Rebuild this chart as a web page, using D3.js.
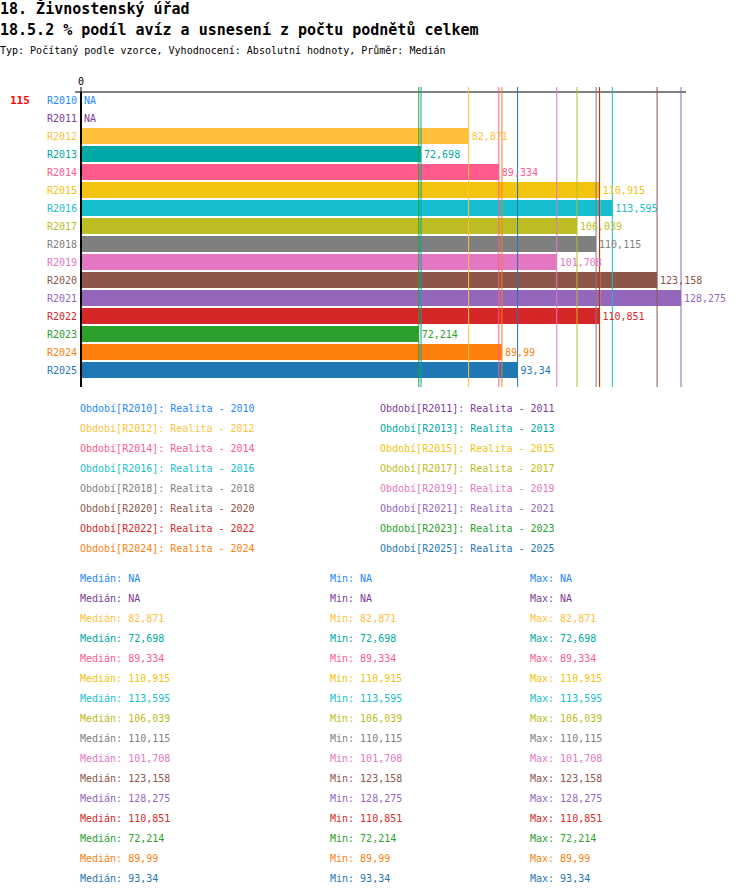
<!DOCTYPE html>
<html>
<head>
<meta charset="utf-8">
<script src="https://cdn.jsdelivr.net/npm/d3@7"></script>
<style>
  body { margin: 0; background: #fff; }
  svg text { font-family: "DejaVu Sans Mono", monospace; }
</style>
</head>
<body>
<div id="chart"></div>
<script>
const periods = ["R2010", "R2011", "R2012", "R2013", "R2014", "R2015", "R2016", "R2017",
  "R2018", "R2019", "R2020", "R2021", "R2022", "R2023", "R2024", "R2025"];
const values = [null, null, 82.871, 72.698, 89.334, 110.915, 113.595, 106.039,
  110.115, 101.708, 123.158, 128.275, 110.851, 72.214, 89.99, 93.34];
const colors = ["#1e88ff", "#7d3c98", "#ffc13b", "#00a9a5", "#ff5a8c", "#f2c40f",
  "#17becf", "#bcbd22", "#7f7f7f", "#e377c2", "#8c564b", "#9467bd",
  "#d62728", "#2ca02c", "#ff7f0e", "#1f77b4"];
const legendNames = periods.map((p) => `Období[${p}]: Realita - ${p.slice(1)}`);
const targetLabel = "115";

const fmt = (v) => (v == null ? "NA" : String(v).replace(".", ","));

const W = 750, H = 896;
const svg = d3.select("#chart").append("svg").attr("width", W).attr("height", H);

svg.append("text").attr("x", 0).attr("y", 14)
  .attr("font-size", 15).attr("font-weight", "bold")
  .text("18. Živnostenský úřad");
svg.append("text").attr("x", 0).attr("y", 35)
  .attr("font-size", 15).attr("font-weight", "bold")
  .text("18.5.2 % podíl avíz a usnesení z počtu podnětů celkem");
svg.append("text").attr("x", 0).attr("y", 54)
  .attr("font-size", 10)
  .text("Typ: Počítaný podle vzorce, Vyhodnocení: Absolutní hodnoty, Průměr: Medián");

const x = d3.scaleLinear()
  .domain([0, d3.max(values)])
  .range([81, 681]);
const y = d3.scaleBand()
  .domain(periods)
  .range([92, 92 + 18 * periods.length])
  .padding(0);

const rows = periods.map((p, i) => ({ p, v: values[i], c: colors[i] }));

// top axis
svg.append("line")
  .attr("x1", 75).attr("x2", 686).attr("y1", 92).attr("y2", 92)
  .attr("stroke", "#000");
svg.append("line")
  .attr("x1", x(0)).attr("x2", x(0)).attr("y1", 87).attr("y2", 92)
  .attr("stroke", "#000");
svg.append("text").attr("x", x(0)).attr("y", 85)
  .attr("text-anchor", "middle").attr("font-size", 10).text("0");

svg.append("text").attr("x", 10).attr("y", y(periods[0]) + y.bandwidth() / 2)
  .attr("dominant-baseline", "middle")
  .attr("font-size", 11).attr("font-weight", "bold").attr("fill", "#ff0000")
  .text(targetLabel);

svg.append("g").selectAll("rect")
  .data(rows.filter((d) => d.v != null))
  .join("rect")
  .attr("x", x(0))
  .attr("y", (d) => y(d.p))
  .attr("width", (d) => x(d.v) - x(0))
  .attr("height", y.bandwidth() - 2)
  .attr("fill", (d) => d.c);

svg.append("g").selectAll("line")
  .data(rows.filter((d) => d.v != null))
  .join("line")
  .attr("x1", (d) => x(d.v)).attr("x2", (d) => x(d.v))
  .attr("y1", 87).attr("y2", 387)
  .attr("stroke", (d) => d.c)
  .attr("stroke-width", 1);

svg.append("line")
  .attr("x1", x(0)).attr("x2", x(0)).attr("y1", 92).attr("y2", 387)
  .attr("stroke", "#000").attr("stroke-width", 2);

svg.append("g").selectAll("text")
  .data(rows)
  .join("text")
  .attr("x", 77)
  .attr("y", (d) => y(d.p) + y.bandwidth() / 2)
  .attr("dominant-baseline", "middle")
  .attr("text-anchor", "end")
  .attr("font-size", 10)
  .attr("fill", (d) => d.c)
  .text((d) => d.p);

svg.append("g").selectAll("text")
  .data(rows)
  .join("text")
  .attr("x", (d) => (d.v == null ? x(0) : x(d.v)) + 3)
  .attr("y", (d) => y(d.p) + y.bandwidth() / 2)
  .attr("dominant-baseline", "middle")
  .attr("font-size", 10)
  .attr("fill", (d) => d.c)
  .text((d) => fmt(d.v));

// legend
svg.append("g").selectAll("text")
  .data(rows)
  .join("text")
  .attr("x", (d, i) => (i % 2 === 0 ? 80 : 380))
  .attr("y", (d, i) => 412 + 20 * Math.floor(i / 2))
  .attr("font-size", 10)
  .attr("fill", (d) => d.c)
  .text((d, i) => legendNames[i]);

// stats
const statCols = [["Medián", 80], ["Min", 330], ["Max", 530]];
statCols.forEach(([name, cx]) => {
  svg.append("g").selectAll("text")
    .data(rows)
    .join("text")
    .attr("x", cx)
    .attr("y", (d, i) => 582 + 20 * i)
    .attr("font-size", 10)
    .attr("fill", (d) => d.c)
    .text((d) => `${name}: ${fmt(d.v)}`);
});
</script>
</body>
</html>
